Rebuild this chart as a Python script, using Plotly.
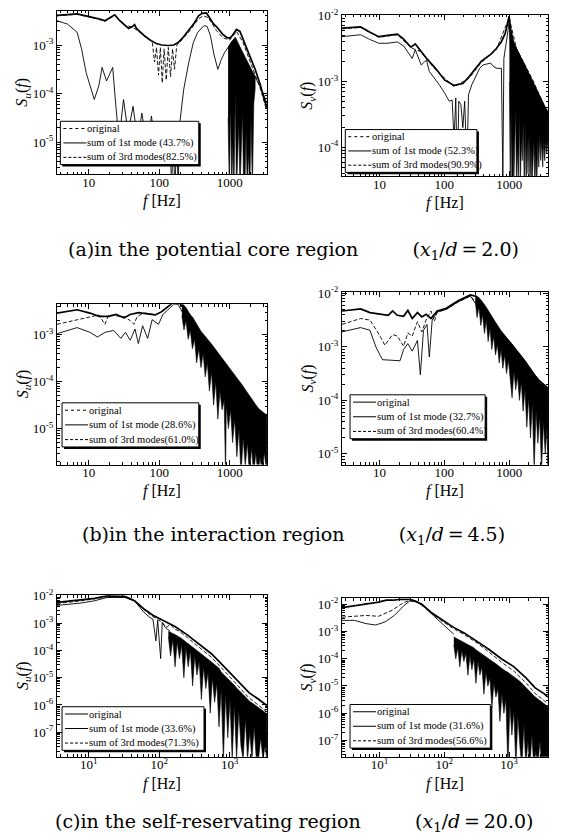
import numpy as np
import plotly.graph_objects as go

W, H = 582, 838
X_RANGE_LEFT = [0.55, 3.53]    # log10 Hz
X_RANGE_RIGHT = [0.42, 3.60]

# ---------------- data (frequency in Hz, spectra given as log10 S) ----------------
# (a) potential core region, u
A_U_ORIG_F = [3.54, 4.88, 6.85, 9.1, 11.4, 14.8, 17.0, 20.2, 23.4, 27.6, 31.7, 36.8, 41.7, 44.7,
              47.6, 53.4, 62.9, 76.9, 90.7, 108.7, 134.8, 160.7, 186, 219, 268, 315, 362, 406,
              469, 530, 587, 648, 718, 800, 900, 1000, 1100, 1250, 1400, 1550, 1750, 2000, 2300,
              2700, 3000, 3370]
A_U_ORIG_S = [-2.39, -2.37, -2.36, -2.40, -2.43, -2.47, -2.50, -2.44, -2.38, -2.50, -2.58, -2.66,
              -2.62, -2.58, -2.66, -2.73, -2.82, -2.91, -2.97, -3.00, -3.01, -3.00, -2.95, -2.84,
              -2.68, -2.55, -2.40, -2.35, -2.34, -2.45, -2.56, -2.62, -2.70, -2.78, -2.84, -2.86,
              -2.80, -2.68, -2.72, -2.88, -3.08, -3.30, -3.50, -3.80, -4.05, -4.30]
A_U_1ST_F = [3.54, 5.0, 6.85, 7.92, 9.2, 12.0, 13.9, 15.5, 17.9, 21.9, 24.3, 26.9, 31.2, 36.2,
             42.6, 49.3, 56.9, 67.3, 77.7, 90.0, 106, 122.7, 141.8, 150.4, 157.3, 167.6, 177.8,
             186, 193.5, 223, 263, 305, 352, 434, 480, 534, 600, 680, 760, 850, 950, 1100, 1200,
             1300, 1500, 1750, 2000, 2300, 2700, 3000, 3370]
A_U_1ST_S = [-2.50, -2.57, -2.74, -3.08, -3.57, -4.12, -3.84, -3.46, -3.74, -3.46, -4.26, -4.95,
             -4.12, -4.80, -4.26, -4.95, -4.40, -5.10, -4.46, -5.20, -4.67, -5.43, -4.80, -6.0,
             -4.9, -6.0, -4.7, -6.0, -4.67, -3.91, -3.36, -2.95, -2.74, -2.60, -2.62, -2.81,
             -3.20, -3.50, -3.30, -3.15, -3.05, -2.90, -2.84, -2.95, -3.15, -3.35, -3.50, -3.65,
             -3.85, -4.00, -4.20]
A_U_3RD_F = [3.54, 6.72, 11.4, 17.0, 23.4, 31.7, 41.7, 53.4, 67.6, 79.6, 86.1, 91.6, 97.9, 104,
             110.5, 117.4, 126, 134.8, 145, 154.7, 165, 177.8, 202.7, 268, 362, 424, 500, 648,
             800, 1000, 1250, 1550, 2000, 2700, 3370]
A_U_3RD_S = [-2.40, -2.37, -2.44, -2.51, -2.39, -2.59, -2.63, -2.74, -2.87, -2.93, -3.35, -3.05,
             -3.62, -3.05, -3.78, -3.08, -3.72, -3.05, -3.65, -3.08, -3.50, -3.00, -2.92, -2.72,
             -2.46, -2.40, -2.44, -2.70, -2.85, -2.90, -2.72, -2.95, -3.38, -3.88, -4.35]
A_U_NOISE_F = [950, 990, 1030, 1070, 1110, 1150, 1200, 1250, 1300, 1350, 1400, 1460, 1520, 1580,
               1640, 1710, 1780, 1850, 1930, 2010, 2100, 2200, 2300]
A_U_NOISE_TOP = [-3.05, -3.00, -2.95, -2.92, -2.90, -2.88, -2.86, -2.90, -2.95, -3.00, -3.05,
                 -3.10, -3.15, -3.20, -3.25, -3.30, -3.35, -3.40, -3.45, -3.50, -3.55, -3.60,
                 -3.65]
A_U_NOISE_BOT = [-4.5, -6.0, -4.2, -6.0, -5.0, -6.0, -4.0, -6.0, -6.0, -4.6, -6.0, -6.0, -4.4,
                 -6.0, -6.0, -4.8, -6.0, -5.2, -6.0, -4.5, -6.0, -4.2, -3.9]

# (a) potential core region, v
A_V_ORIG_F = [2.63, 3.7, 5.1, 7.0, 9.75, 13.4, 18.8, 23.1, 30.6, 35.6, 42.1, 52.2, 72.9, 101.5,
              141, 193, 240, 300, 374, 518, 634, 756, 870, 1000, 1050, 1169, 1400, 1647, 2119,
              2500, 2935, 3400, 3972]
A_V_ORIG_S = [-2.19, -2.18, -2.17, -2.25, -2.32, -2.30, -2.28, -2.35, -2.48, -2.43, -2.53, -2.64,
              -2.80, -2.98, -3.06, -3.03, -2.93, -2.80, -2.69, -2.59, -2.50, -2.40, -2.27, -2.01,
              -2.20, -2.42, -2.58, -2.72, -2.95, -3.10, -3.25, -3.37, -3.47]
A_V_1ST_F = [2.63, 3.7, 5.1, 7.0, 9.75, 13.0, 18.8, 23.5, 29.1, 31.9, 35.6, 39.3, 44.0, 49.5,
             53.2, 58.7, 70.2, 83.7, 101.5, 119, 132, 141, 150, 159, 167, 180, 193, 206, 223,
             236, 265, 308, 351, 393, 452, 518, 584, 650, 760, 800, 830, 880, 930, 970, 1000,
             1040, 1080, 1120, 1200, 1300, 1400, 1600, 1800, 2100, 2500, 3000, 3600, 3972]
A_V_1ST_S = [-2.32, -2.30, -2.29, -2.36, -2.42, -2.42, -2.40, -2.46, -2.58, -2.65, -2.52, -2.62,
             -2.75, -2.70, -2.68, -2.85, -2.95, -3.05, -3.18, -3.30, -3.28, -3.90, -3.25, -4.50,
             -3.30, -3.35, -3.70, -3.30, -4.30, -3.20, -3.05, -2.92, -2.80, -2.75, -2.73, -2.72,
             -2.78, -2.80, -2.80, -4.50, -2.65, -2.50, -2.35, -2.20, -2.06, -2.40, -3.00, -4.50,
             -2.55, -2.70, -2.62, -2.75, -2.85, -3.00, -3.10, -3.25, -3.40, -3.55]
A_V_3RD_F = [2.63, 5.1, 9.75, 18.8, 30.6, 42.1, 72.9, 141, 240, 374, 634, 1000, 1300, 2300, 3972]
A_V_3RD_S = [-2.20, -2.18, -2.33, -2.29, -2.49, -2.54, -2.82, -3.08, -2.95, -2.71, -2.52, -2.03,
             -2.50, -2.97, -3.50]
A_V_NOISE_F = [1010, 1040, 1075, 1110, 1145, 1180, 1220, 1260, 1300, 1345, 1390, 1440, 1490,
               1540, 1595, 1650, 1710, 1770, 1830, 1895, 1960, 2030, 2100, 2175, 2250, 2330,
               2410, 2495, 2585, 2675, 2770, 2870, 2970, 3075, 3185, 3300, 3420, 3540, 3670,
               3800, 3972]
A_V_NOISE_TOP = [-2.10, -2.22, -2.30, -2.35, -2.38, -2.41, -2.44, -2.47, -2.50, -2.53, -2.56,
                 -2.59, -2.62, -2.65, -2.67, -2.70, -2.72, -2.75, -2.78, -2.81, -2.84, -2.87,
                 -2.90, -2.93, -2.96, -2.99, -3.02, -3.06, -3.09, -3.12, -3.16, -3.19, -3.22,
                 -3.26, -3.29, -3.32, -3.35, -3.38, -3.41, -3.44, -3.47]
A_V_NOISE_BOT = [-3.0, -4.6, -3.2, -4.6, -3.8, -4.6, -4.6, -3.4, -4.6, -4.0, -4.6, -3.5, -4.6,
                 -3.9, -4.2, -3.6, -4.6, -3.7, -4.6, -3.9, -4.4, -3.8, -4.6, -4.0, -4.6, -4.2,
                 -3.9, -4.6, -4.1, -4.6, -3.9, -4.3, -3.8, -4.2, -3.9, -4.3, -3.9, -4.2, -3.9,
                 -4.1, -3.9]

# (b) interaction region, u
B_U_ORIG_F = [3.54, 6.85, 10.4, 14.0, 19.2, 24.4, 31.7, 38.8, 50.6, 64.8, 87.9, 108.7, 133,
              161.6, 198.5, 268, 367, 551, 826, 1236, 1848, 2535, 3370]
B_U_ORIG_S = [-2.54, -2.47, -2.54, -2.61, -2.61, -2.57, -2.64, -2.57, -2.53, -2.55, -2.58, -2.51,
              -2.40, -2.30, -2.34, -2.57, -2.95, -3.36, -3.73, -4.10, -4.48, -4.65, -4.72]
B_U_1ST_F = [3.54, 6.85, 10.4, 13.3, 17.1, 22.5, 28.6, 33.2, 38.8, 45.4, 50.6, 58.2, 68.6, 79.6,
             97.9, 113, 133, 161.6, 186, 219, 268, 367, 551, 826, 1236, 1848, 2535, 3370]
B_U_1ST_S = [-2.98, -2.85, -2.95, -3.05, -2.95, -2.91, -3.08, -2.95, -3.12, -2.88, -3.19, -2.81,
             -3.08, -2.68, -2.78, -2.57, -2.47, -2.35, -2.36, -2.55, -2.75, -3.15, -3.55, -3.95,
             -4.35, -4.75, -4.95, -5.05]
B_U_3RD_F = [3.54, 6.85, 10.4, 14.0, 17.0, 19.2, 24.4, 31.7, 38.8, 43.7, 48.6, 58.2, 64.8, 87.9,
             108.7, 133, 161.6, 198.5, 268, 367, 551, 826, 1236, 1848, 2535, 3370]
B_U_3RD_S = [-2.78, -2.68, -2.61, -2.58, -2.78, -2.58, -2.60, -2.62, -2.70, -2.78, -2.62, -2.55,
             -2.54, -2.58, -2.51, -2.41, -2.31, -2.36, -2.60, -2.98, -3.40, -3.78, -4.15, -4.52,
             -4.70, -4.78]
B_U_NOISE_F = [210, 225, 240, 258, 276, 296, 318, 340, 365, 392, 420, 450, 482, 516, 553, 592,
               635, 680, 728, 780, 836, 875, 896, 960, 1030, 1100, 1180, 1265, 1355, 1450, 1555,
               1665, 1785, 1910, 2050, 2195, 2350, 2520, 2700, 2890, 3100, 3370]
B_U_NOISE_TOP = [-2.33, -2.37, -2.42, -2.50, -2.58, -2.62, -2.70, -2.78, -2.86, -2.93, -2.98,
                 -3.03, -3.09, -3.15, -3.20, -3.26, -3.32, -3.38, -3.43, -3.49, -3.55, -3.58,
                 -3.60, -3.66, -3.72, -3.78, -3.85, -3.91, -3.97, -4.03, -4.10, -4.17, -4.24,
                 -4.31, -4.38, -4.44, -4.50, -4.56, -4.60, -4.64, -4.68, -4.72]
B_U_NOISE_BOT = [-2.6, -2.9, -2.7, -3.1, -2.9, -3.3, -3.1, -3.6, -3.3, -3.7, -3.4, -3.9, -3.6,
                 -4.2, -3.8, -4.5, -4.0, -4.8, -4.2, -4.6, -4.4, -6.0, -4.5, -5.0, -4.6, -5.3,
                 -4.8, -5.6, -5.0, -6.0, -5.2, -5.8, -5.3, -6.0, -5.4, -6.0, -5.5, -6.0, -5.6,
                 -6.0, -5.5, -6.0]

# (b) interaction region, v
B_V_ORIG_F = [2.63, 5.1, 7.1, 9.85, 13.6, 15.9, 18.8, 23.5, 27.3, 31.9, 38.4, 44.9, 52.2, 62.1,
              77.5, 107, 163, 252, 313, 484, 740, 1153, 1757, 2718, 3972]
B_V_ORIG_S = [-2.33, -2.29, -2.36, -2.39, -2.41, -2.33, -2.41, -2.43, -2.32, -2.47, -2.36, -2.44,
              -2.39, -2.47, -2.33, -2.28, -2.14, -2.03, -2.06, -2.39, -2.72, -2.99, -3.27, -3.60,
              -3.77]
B_V_1ST_F = [2.63, 5.1, 7.1, 8.9, 11.1, 20.7, 23.5, 27.3, 31.9, 38.4, 42.6, 47.6, 54.0, 58.6,
             64.9, 77.5, 107, 163, 252, 484, 740, 1153, 1757, 2718, 3972]
B_V_1ST_S = [-2.72, -2.64, -2.69, -3.02, -3.24, -3.26, -3.05, -2.94, -3.08, -2.88, -3.52, -2.69,
             -2.58, -3.19, -2.50, -2.35, -2.30, -2.16, -2.05, -2.55, -2.90, -3.15, -3.45, -3.80,
             -4.00]
B_V_3RD_F = [2.63, 5.1, 7.1, 9.85, 12.1, 15.9, 18.8, 23.5, 27.3, 31.9, 38.4, 44.9, 52.2, 62.1,
             70.3, 77.5, 107, 163, 252, 484, 1153, 3972]
B_V_3RD_S = [-2.58, -2.47, -2.50, -2.77, -2.97, -2.77, -2.80, -2.99, -2.74, -2.80, -2.53, -2.72,
             -2.50, -2.33, -2.52, -2.35, -2.30, -2.16, -2.05, -2.42, -3.02, -3.82]
B_V_NOISE_F = [300, 320, 342, 365, 390, 416, 444, 474, 506, 540, 577, 616, 658, 702, 750, 800,
               855, 912, 974, 1040, 1110, 1185, 1265, 1350, 1442, 1540, 1644, 1755, 1874, 2000,
               2136, 2280, 2435, 2600, 2776, 2964, 3165, 3380, 3608, 3850, 3972]
B_V_NOISE_TOP = [-2.05, -2.06, -2.08, -2.12, -2.16, -2.21, -2.26, -2.32, -2.38, -2.44, -2.49,
                 -2.54, -2.59, -2.65, -2.70, -2.74, -2.78, -2.82, -2.87, -2.91, -2.95, -3.00,
                 -3.05, -3.10, -3.14, -3.19, -3.23, -3.27, -3.32, -3.37, -3.42, -3.47, -3.52,
                 -3.57, -3.62, -3.66, -3.69, -3.72, -3.74, -3.76, -3.77]
B_V_NOISE_BOT = [-2.15, -2.45, -2.25, -2.60, -2.40, -2.75, -2.50, -2.90, -2.65, -3.05, -2.80,
                 -3.15, -2.95, -3.30, -3.05, -3.40, -3.15, -3.50, -3.25, -3.60, -3.95, -3.45,
                 -3.80, -3.55, -4.00, -3.65, -4.20, -3.80, -4.50, -3.95, -4.70, -4.05, -5.3,
                 -4.20, -4.80, -4.30, -5.3, -4.40, -5.0, -4.50, -5.3]

# (c) self-preserving region, u
C_U_ORIG_F = [3.54, 5.38, 7.92, 12.1, 18.1, 24.4, 32.7, 44.7, 60.1, 81.5, 110.5, 167.6, 248, 374,
              556, 840, 1243, 1880, 2541, 3370]
C_U_ORIG_S = [-2.24, -2.18, -2.14, -2.09, -2.00, -2.00, -2.02, -2.18, -2.47, -2.71, -2.89, -3.12,
              -3.42, -3.77, -4.13, -4.60, -5.07, -5.55, -5.78, -6.02]
C_U_1ST_F = [3.54, 7.92, 12.1, 18.1, 32.7, 44.7, 60.1, 74.3, 81.5, 89.9, 95.2, 105, 110.5, 121.8,
             143.5]
C_U_1ST_S = [-2.35, -2.26, -2.18, -2.06, -2.06, -2.18, -2.59, -2.80, -2.85, -3.65, -2.90, -4.30,
             -2.98, -3.15, -3.30]
C_U_3RD_F = [3.54, 7.92, 18.1, 32.7, 44.7, 60.1, 81.5, 110.5, 126, 143.5, 167.6, 194.4, 248, 374,
             556, 840, 1243, 1880, 2541, 3370]
C_U_3RD_S = [-2.28, -2.18, -2.04, -2.04, -2.20, -2.50, -2.76, -2.97, -3.15, -3.05, -3.22, -3.30,
             -3.52, -3.88, -4.26, -4.75, -5.24, -5.74, -6.00, -6.25]
C_U_NOISE_F = [135, 145, 156, 168, 180, 194, 208, 224, 240, 258, 277, 298, 320, 344, 370, 397,
               427, 459, 493, 530, 569, 612, 657, 706, 759, 815, 876, 941, 1011, 1086, 1167,
               1254, 1347, 1447, 1555, 1670, 1795, 1928, 2072, 2226, 2391, 2569, 2760, 2966,
               3186, 3370]
C_U_NOISE_TOP = [-3.30, -3.35, -3.38, -3.42, -3.46, -3.50, -3.56, -3.63, -3.69, -3.75, -3.81,
                 -3.87, -3.93, -4.00, -4.06, -4.10, -4.18, -4.25, -4.32, -4.39, -4.45, -4.51,
                 -4.58, -4.65, -4.79, -4.87, -4.94, -5.02, -5.09, -5.17, -5.28, -5.38, -5.45,
                 -5.54, -5.62, -5.70, -5.79, -5.87, -5.92, -5.98, -6.03, -6.09, -6.15, -6.22,
                 -6.28, -6.32]
C_U_NOISE_BOT = [-3.5, -4.2, -3.6, -4.6, -3.7, -4.3, -3.8, -5.0, -3.9, -4.6, -4.0, -5.3, -4.2,
                 -4.9, -4.4, -5.8, -4.6, -5.4, -4.8, -6.3, -5.0, -5.9, -5.2, -6.8, -5.4, -8.0,
                 -5.6, -7.2, -5.8, -8.0, -6.0, -8.0, -6.2, -7.5, -8.0, -6.5, -8.0, -7.0, -8.0,
                 -6.8, -8.0, -8.0, -7.2, -8.0, -7.5, -8.0]

# (c) self-preserving region, v
C_V_ORIG_F = [2.63, 4.1, 6.2, 9.65, 12.7, 15.9, 20.7, 29.1, 35.6, 44.9, 62.1, 86.4, 133, 205, 320,
              485, 757, 1177, 1836, 2500, 3490, 3972]
C_V_ORIG_S = [-2.12, -2.06, -2.00, -1.92, -1.85, -1.85, -1.82, -1.82, -1.88, -2.00, -2.29, -2.53,
              -2.82, -3.06, -3.35, -3.65, -4.00, -4.29, -4.71, -5.06, -5.29, -5.41]
C_V_1ST_F = [2.63, 4.1, 6.2, 8.7, 12.1, 16.9, 23.5, 29.1, 38.4, 52.2, 70.3, 92.6, 119, 140]
C_V_1ST_S = [-2.59, -2.59, -2.71, -2.76, -2.65, -2.41, -2.06, -1.88, -1.92, -2.15, -2.45, -2.70,
             -2.95, -3.10]
C_V_3RD_F = [2.63, 6.2, 9.65, 15.0, 23.5, 31.9, 44.9, 62.1, 86.4, 133, 205, 320, 485, 757, 1177,
             1836, 2500, 3972]
C_V_3RD_S = [-2.47, -2.41, -2.44, -2.24, -1.94, -1.83, -2.02, -2.32, -2.57, -2.87, -3.12, -3.42,
             -3.75, -4.12, -4.45, -4.90, -5.27, -5.65]
C_V_NOISE_F = [140, 150, 161, 173, 186, 200, 215, 231, 248, 266, 286, 307, 330, 354, 380, 408,
               438, 470, 505, 542, 582, 625, 671, 720, 773, 830, 891, 957, 1027, 1103, 1184,
               1271, 1365, 1465, 1573, 1689, 1813, 1947, 2090, 2244, 2410, 2587, 2778, 2982,
               3202, 3438, 3700, 3972]
C_V_NOISE_TOP = [-3.20, -3.24, -3.28, -3.31, -3.35, -3.40, -3.43, -3.47, -3.51, -3.55, -3.60,
                 -3.67, -3.72, -3.77, -3.82, -3.87, -3.92, -3.97, -4.03, -4.08, -4.13, -4.18,
                 -4.24, -4.30, -4.36, -4.41, -4.46, -4.50, -4.55, -4.59, -4.65, -4.71, -4.77,
                 -4.83, -4.90, -4.97, -5.05, -5.13, -5.21, -5.28, -5.36, -5.43, -5.48, -5.53,
                 -5.58, -5.63, -5.69, -5.76]
C_V_NOISE_BOT = [-3.5, -4.0, -3.6, -4.3, -3.7, -4.1, -3.8, -4.6, -3.9, -4.4, -4.0, -4.9, -4.1,
                 -4.6, -4.3, -5.3, -4.5, -5.0, -4.7, -5.8, -4.9, -5.4, -5.1, -6.3, -5.3, -6.0,
                 -5.5, -8.0, -5.7, -6.8, -5.9, -8.0, -6.1, -7.2, -8.0, -6.4, -8.0, -7.0, -8.0,
                 -6.8, -8.0, -7.4, -8.0, -7.0, -8.0, -7.6, -8.0, -8.0]

# tick labels and texts
X_TICK_VALS = [10, 100, 1000]
X_TICK_TEXT_PLAIN = ["10", "100", "1000"]
X_TICK_TEXT_POW = ["10<sup>1</sup>", "10<sup>2</sup>", "10<sup>3</sup>"]
LEGEND_NAMES = ["original", "sum of 1st mode ({}%)", "sum of 3rd modes({}%)"]
GAP = "&nbsp;" * 9
TS = "\u2009"  # thin space
CAPTIONS = [
    "(a)in the potential core region" + GAP
    + "(<i>x</i><sub>1</sub>/<i>d</i>" + TS + "=" + TS + "2.0)",
    "(b)in the interaction region" + GAP
    + "(<i>x</i><sub>1</sub>/<i>d</i>" + TS + "=" + TS + "4.5)",
    "(c)in the self-reservating region" + GAP
    + "(<i>x</i><sub>1</sub>/<i>d</i>" + TS + "=" + TS + "20.0)",
]

DATA = {
    "A_U": (A_U_ORIG_F, A_U_ORIG_S, A_U_1ST_F, A_U_1ST_S, A_U_3RD_F, A_U_3RD_S,
            A_U_NOISE_F, A_U_NOISE_TOP, A_U_NOISE_BOT),
    "A_V": (A_V_ORIG_F, A_V_ORIG_S, A_V_1ST_F, A_V_1ST_S, A_V_3RD_F, A_V_3RD_S,
            A_V_NOISE_F, A_V_NOISE_TOP, A_V_NOISE_BOT),
    "B_U": (B_U_ORIG_F, B_U_ORIG_S, B_U_1ST_F, B_U_1ST_S, B_U_3RD_F, B_U_3RD_S,
            B_U_NOISE_F, B_U_NOISE_TOP, B_U_NOISE_BOT),
    "B_V": (B_V_ORIG_F, B_V_ORIG_S, B_V_1ST_F, B_V_1ST_S, B_V_3RD_F, B_V_3RD_S,
            B_V_NOISE_F, B_V_NOISE_TOP, B_V_NOISE_BOT),
    "C_U": (C_U_ORIG_F, C_U_ORIG_S, C_U_1ST_F, C_U_1ST_S, C_U_3RD_F, C_U_3RD_S,
            C_U_NOISE_F, C_U_NOISE_TOP, C_U_NOISE_BOT),
    "C_V": (C_V_ORIG_F, C_V_ORIG_S, C_V_1ST_F, C_V_1ST_S, C_V_3RD_F, C_V_3RD_S,
            C_V_NOISE_F, C_V_NOISE_TOP, C_V_NOISE_BOT),
}
for key, arr in DATA.items():
    for j in (0, 2, 4):
        assert len(arr[j]) == len(arr[j + 1]), (key, j, len(arr[j]), len(arr[j + 1]))
    assert len(arr[6]) == len(arr[7]) == len(arr[8]), (key, len(arr[6]), len(arr[7]), len(arr[8]))

# ---------------- panel layout (pixel boxes x0, x1, y0, y1) ----------------
PANELS = [
    dict(key="A_U", box=(57, 267, 3, 168), xr=X_RANGE_LEFT, yr=(-5.66, -2.30), comp="u",
         dec=[-3, -4, -5], pow=False, pct=("43.7", "82.5"), leg=(0.016, 0.675, 0.06, 0.325),
         odash="dot"),
    dict(key="A_V", box=(342, 548, 7, 170), xr=X_RANGE_RIGHT, yr=(-4.44, -1.99), comp="v",
         dec=[-2, -3, -4], pow=False, pct=("52.3", "90.9"), leg=(0.016, 0.655, 0.025, 0.29),
         odash="dot"),
    dict(key="B_U", box=(57, 267, 299, 461), xr=X_RANGE_LEFT, yr=(-5.77, -2.35), comp="u",
         dec=[-3, -4, -5], pow=False, pct=("28.6", "61.0"), leg=(0.024, 0.675, 0.11, 0.385),
         odash="dot"),
    dict(key="B_V", box=(342, 548, 287, 461), xr=X_RANGE_RIGHT, yr=(-5.20, -1.98), comp="v",
         dec=[-2, -3, -4, -5], pow=False, pct=("32.7", "60.4"), leg=(0.039, 0.695, 0.15, 0.405),
         odash="solid"),
    dict(key="C_U", box=(57, 267, 593, 756), xr=X_RANGE_LEFT, yr=(-7.9, -1.98), comp="u",
         dec=[-2, -3, -4, -5, -6, -7], pow=True, pct=("33.6", "71.3"),
         leg=(0.024, 0.70, 0.04, 0.31), odash="solid"),
    dict(key="C_V", box=(342, 548, 596, 756), xr=X_RANGE_RIGHT, yr=(-7.6, -1.78), comp="v",
         dec=[-2, -3, -4, -5, -6, -7], pow=True, pct=("31.6", "56.6"),
         leg=(0.039, 0.72, 0.055, 0.33), odash="solid"),
]

SERIF = "Liberation Serif, Times New Roman, serif"
CAP_FONT = "DejaVu Serif, serif"
fig = go.Figure()
shapes, annotations = [], []


def lg(vals):
    return 10.0 ** np.array(vals, dtype=float)


for i, p in enumerate(PANELS, start=1):
    k = "" if i == 1 else str(i)
    x0, x1, y0, y1 = p["box"]
    pw, ph = x1 - x0, y1 - y0
    axis_common = dict(type="log", showline=True, linecolor="black", linewidth=1, mirror="allticks",
                       ticks="inside", ticklen=5, tickcolor="black", showgrid=False, zeroline=False,
                       tickfont=dict(family=SERIF, size=13, color="black"),
                       minor=dict(ticks="inside", ticklen=2.5, tickcolor="black", dtick="D1",
                                  showgrid=False))
    fig.layout["xaxis" + k] = dict(axis_common, range=p["xr"], domain=[x0 / W, x1 / W],
                                   anchor="y" + k, tickmode="array", tickvals=X_TICK_VALS,
                                   ticktext=X_TICK_TEXT_POW if p["pow"] else X_TICK_TEXT_PLAIN,
                                   ticklabelstandoff=-4)
    fig.layout["yaxis" + k] = dict(axis_common, range=list(p["yr"]),
                                   domain=[1 - y1 / H, 1 - y0 / H], anchor="x" + k,
                                   tickmode="array", tickvals=[10.0 ** d for d in p["dec"]],
                                   ticktext=["10<sup>%d</sup>" % d for d in p["dec"]])

    of, os_, f1, s1, f3, s3, nf, ntop, nbot = DATA[p["key"]]
    ax = dict(xaxis="x" + k, yaxis="y" + k)
    # dense high-frequency fluctuation band (solid black with spiky lower edge)
    fig.add_trace(go.Scatter(x=list(nf) + list(nf)[::-1], y=lg(list(ntop) + list(nbot)[::-1]),
                             mode="lines", fill="toself", fillcolor="black",
                             line=dict(color="black", width=0.6), **ax))
    fig.add_trace(go.Scatter(x=f1, y=lg(s1), mode="lines",
                             line=dict(color="black", width=0.9), **ax))
    fig.add_trace(go.Scatter(x=f3, y=lg(s3), mode="lines",
                             line=dict(color="black", width=0.9, dash="4px,2px"), **ax))
    fig.add_trace(go.Scatter(x=of, y=lg(os_), mode="lines",
                             line=dict(color="black", width=1.7), **ax))

    # axis titles
    annotations.append(dict(text="<i>S</i><sub><i>%s</i></sub>(<i>f</i>)" % p["comp"],
                            xref="paper", yref="paper", x=(x0 - 34) / W, y=1 - (y0 + ph / 2) / H,
                            textangle=-90, showarrow=False, xanchor="center", yanchor="middle",
                            font=dict(family=SERIF, size=16, color="black")))
    annotations.append(dict(text="<i>f</i> [Hz]", xref="paper", yref="paper",
                            x=(x0 + pw / 2) / W, y=1 - (y1 + 27) / H, showarrow=False,
                            xanchor="center", yanchor="middle",
                            font=dict(family=SERIF, size=16, color="black")))

    # legend box drawn with shapes (with drop shadow)
    xl, xr, yb, yt = p["leg"]
    xd, yd = "x%s domain" % k, "y%s domain" % k
    dx, dy = 2.0 / pw, 2.0 / ph
    shapes.append(dict(type="rect", xref=xd, yref=yd, x0=xl + dx, x1=xr + dx, y0=yb - dy,
                       y1=yt - dy, fillcolor="black", line=dict(width=0)))
    shapes.append(dict(type="rect", xref=xd, yref=yd, x0=xl, x1=xr, y0=yb, y1=yt,
                       fillcolor="white", line=dict(color="black", width=1)))
    labels = [LEGEND_NAMES[0], LEGEND_NAMES[1].format(p["pct"][0]),
              LEGEND_NAMES[2].format(p["pct"][1])]
    dashes = [p["odash"], "solid", "3px,2px"]
    for j in range(3):
        yc = yt - (j + 0.5) * (yt - yb) / 3
        shapes.append(dict(type="line", xref=xd, yref=yd, x0=xl + 3 / pw, x1=xl + 26 / pw,
                           y0=yc, y1=yc, line=dict(color="black", width=1, dash=dashes[j])))
        annotations.append(dict(text=labels[j], xref=xd, yref=yd, x=xl + 25 / pw, y=yc,
                                showarrow=False, xanchor="left", yanchor="middle",
                                font=dict(family=SERIF, size=10.5, color="black")))

for cap, cy in zip(CAPTIONS, [245, 533, 822]):
    annotations.append(dict(text=cap, xref="paper", yref="paper", x=0.505, y=1 - cy / H,
                            showarrow=False, xanchor="center", yanchor="middle",
                            font=dict(family=CAP_FONT, size=19, color="black")))

fig.update_layout(width=W, height=H, margin=dict(l=0, r=0, t=0, b=0), showlegend=False,
                  paper_bgcolor="white", plot_bgcolor="white", shapes=shapes,
                  annotations=annotations)
fig.write_html("out.html")
